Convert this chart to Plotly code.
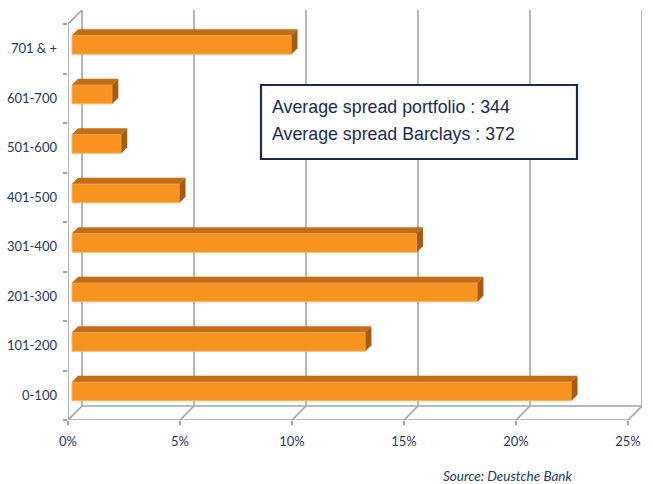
import plotly.graph_objects as go

categories = ["0-100", "101-200", "201-300", "301-400", "401-500", "501-600", "601-700", "701 & +"]
shares = [22.3, 13.1, 18.1, 15.4, 4.8, 2.2, 1.8, 9.8]
x_ticks = [0, 5, 10, 15, 20, 25]
x_ticktext = ["0%", "5%", "10%", "15%", "20%", "25%"]
box_lines = ["Average spread portfolio : 344", "Average spread Barclays : 372"]
source_text = "Source: Deustche Bank"

W, H = 653, 484
L, R, T, B = 68, 11, 10, 64
PX_X = 22.4   # px per 1%
PX_Y = 49.5   # px per category
plot_w = W - L - R
plot_h = H - T - B
xr = plot_w / PX_X
yr = plot_h / PX_Y

DEPTH = 14
ddx, ddy = DEPTH / PX_X, DEPTH / PX_Y
b_off_x, b_off_y = 4 / PX_X, 4 / PX_Y
b_dep_x, b_dep_y = 6 / PX_X, 6 / PX_Y
bar_h = 19 / PX_Y

FRONT = "#F7931E"
TOP = "#C26E18"
SIDE = "#A45C12"
GRID = "#a3a3a3"
NAVY = "#1F3864"

n = len(categories)
centers = [i + 0.5 for i in range(n)]

fig = go.Figure()

# 3D top and side faces computed from the data values
for c, v in zip(centers, shares):
    yc = c + b_off_y
    y0, y1 = yc - bar_h / 2, yc + bar_h / 2
    x0, x1 = b_off_x, b_off_x + v
    fig.add_trace(go.Scatter(
        x=[x0, x1, x1 + b_dep_x, x0 + b_dep_x, x0],
        y=[y1, y1, y1 + b_dep_y, y1 + b_dep_y, y1],
        fill="toself", fillcolor=TOP, mode="lines",
        line=dict(width=0, color=TOP), hoverinfo="skip", showlegend=False))
    fig.add_trace(go.Scatter(
        x=[x1, x1 + b_dep_x, x1 + b_dep_x, x1, x1],
        y=[y0, y0 + b_dep_y, y1 + b_dep_y, y1, y0],
        fill="toself", fillcolor=SIDE, mode="lines",
        line=dict(width=0, color=SIDE), hoverinfo="skip", showlegend=False))

fig.add_trace(go.Bar(
    orientation="h",
    x=shares,
    y=[c + b_off_y for c in centers],
    base=b_off_x,
    width=bar_h,
    marker=dict(color=FRONT, line=dict(color="#FAB56A", width=1)),
    showlegend=False, hoverinfo="skip"))

shapes = []
def line(x0, y0, x1, y1):
    shapes.append(dict(type="line", xref="x", yref="y", x0=x0, y0=y0, x1=x1, y1=y1,
                       line=dict(color=GRID, width=1.6), layer="below"))

line(0, 0, x_ticks[-1], 0)
line(ddx, ddy, x_ticks[-1] + ddx, ddy)
for xv in x_ticks:
    line(xv, 0, xv + ddx, ddy)
    line(xv + ddx, ddy, xv + ddx, n + ddy)
line(0, 0, 0, n)
line(0, n, ddx, n + ddy)

def px2paper_x(px):
    return (px - L) / plot_w
def px2paper_y(py):
    return 1 - (py - T) / plot_h

shapes.append(dict(type="rect", xref="paper", yref="paper",
                   x0=px2paper_x(261), x1=px2paper_x(577),
                   y0=px2paper_y(159), y1=px2paper_y(85),
                   line=dict(color="#1B2A52", width=2.2), fillcolor="white", layer="above"))

annotations = []
for i, txt in enumerate(box_lines):
    annotations.append(dict(
        text=txt, xref="paper", yref="paper", x=px2paper_x(270), y=px2paper_y(107 + 27 * i),
        xanchor="left", yanchor="middle", showarrow=False,
        font=dict(family="Liberation Sans", size=17.8, color="#1B2A52")))
annotations.append(dict(
    text="<i>" + source_text + "</i>", xref="paper", yref="paper",
    x=px2paper_x(573), y=px2paper_y(476), xanchor="right", yanchor="middle",
    height=14, borderpad=0,
    showarrow=False, font=dict(family="Lato", size=13.5, color=NAVY)))

fig.update_layout(
    width=W, height=H,
    margin=dict(l=L, r=R, t=T, b=B, autoexpand=False),
    paper_bgcolor="white", plot_bgcolor="white",
    shapes=shapes, annotations=annotations,
    xaxis=dict(range=[0, xr], tickvals=x_ticks, ticktext=x_ticktext,
               showgrid=False, zeroline=False, showline=False, automargin=False,
               ticks="outside", ticklen=4, tickcolor=GRID, tickwidth=1.5,
               tickfont=dict(family="Lato", size=13, color=NAVY),
               ticklabelstandoff=5, fixedrange=True),
    yaxis=dict(range=[0, yr], tickvals=centers, ticktext=categories,
               showgrid=False, zeroline=False, showline=False, automargin=False,
               ticks="", ticklabelstandoff=10,
               minor=dict(tickvals=list(range(n + 1)), ticks="outside", ticklen=4,
                          tickcolor=GRID, tickwidth=1.5, showgrid=False),
               tickfont=dict(family="Lato", size=13, color=NAVY), fixedrange=True),
)

fig.write_html("out.html")
